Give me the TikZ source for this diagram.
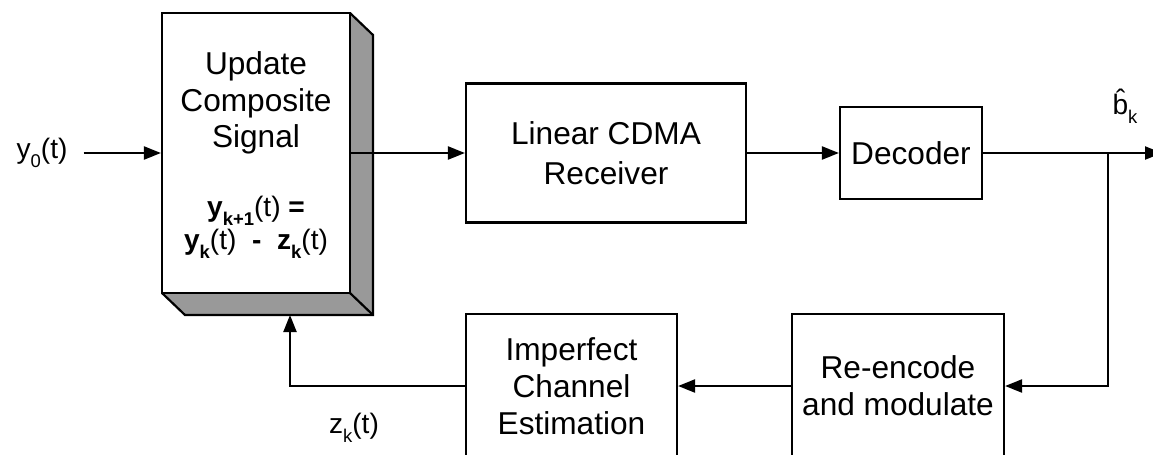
\documentclass[tikz,border=0pt]{standalone}
\usepackage{fontspec}
\setmainfont{Liberation Sans}
\usetikzlibrary{arrows.meta,calc}
\newcommand{\lowidx}[1]{\raisebox{-0.6ex}{\fontsize{10.5}{10.5}\selectfont #1}}

\begin{document}
\begin{tikzpicture}[x=0.02cm,y=-0.02cm,line width=1.25pt,>={Triangle[length=0.34cm,width=0.26cm]}]
\tikzstyle{block}=[rectangle,draw,line width=1.25pt,fill=white,inner sep=0pt,align=center,font=\fontsize{18}{20.9}\selectfont]
\tikzstyle{sig}=[inner sep=0.3cm,font=\fontsize{16}{19}\selectfont]
\tikzstyle{txt}=[align=center,font=\fontsize{18}{20.9}\selectfont]
\useasboundingbox (0,0) rectangle (1153,454);
\clip (0,0) rectangle (1153,454);
% shadow of the update block
\fill[black!40] (350,13) -- (373,35) -- (373,315) -- (185,315) -- (162,293) -- (350,293) -- cycle;
\draw (350,13) -- (373,35) -- (373,315) -- (185,315) -- (162,293);
\draw (350,293) -- (373,315);
\node[block,minimum width=3.76cm,minimum height=5.6cm] (update) at (256,153) {};
\node[txt] (updtitle) at (256,103) {Update\\Composite\\Signal};
\node[txt,font=\bfseries\fontsize{16}{18.7}\selectfont] (updrule) at (256,227) {y\lowidx{k+1}\textmd{(t)} =\\y\lowidx{k}\textmd{(t)}\ \ -\ \ z\lowidx{k}\textmd{(t)}};
\node[block,minimum width=5.6cm,minimum height=2.78cm] (lin) at (606,153) {\raisebox{0pt}[\height][0pt]{Linear CDMA}\\[2pt]Receiver};
\node[block,minimum width=2.84cm,minimum height=1.84cm] (dec) at (911,153) {Decoder};
\node[block,minimum width=4.24cm,minimum height=2.88cm] (reenc) at (898,386) {Re-encode\\and modulate};
\node[block,minimum width=4.22cm,minimum height=2.88cm] (imp) at (571.5,386) {Imperfect\\Channel\\Estimation};
\node[sig] (yin) at (42,153) {y\lowidx{0}(t)};
\node[sig] (bhat) at (1125,106) {\^{b}\lowidx{k}};
\node[sig] (zk) at (354,428) {z\lowidx{k}(t)};
\coordinate (tap) at (1108,153);
\coordinate (bout) at (1162,153);
\coordinate (shadowfoot) at (290,315);
% connectors
\draw[->] (yin.east) -- (update.west);
\draw[->] (update.east) -- (lin.west);
\draw[->] (lin.east) -- (dec.west);
\draw[->] (dec.east) -- (bout);
\draw[->] (tap) |- (reenc.east);
\draw[->] (reenc.west) -- (imp.east);
\draw[->] (imp.west) -| (shadowfoot);
\end{tikzpicture}
\end{document}
